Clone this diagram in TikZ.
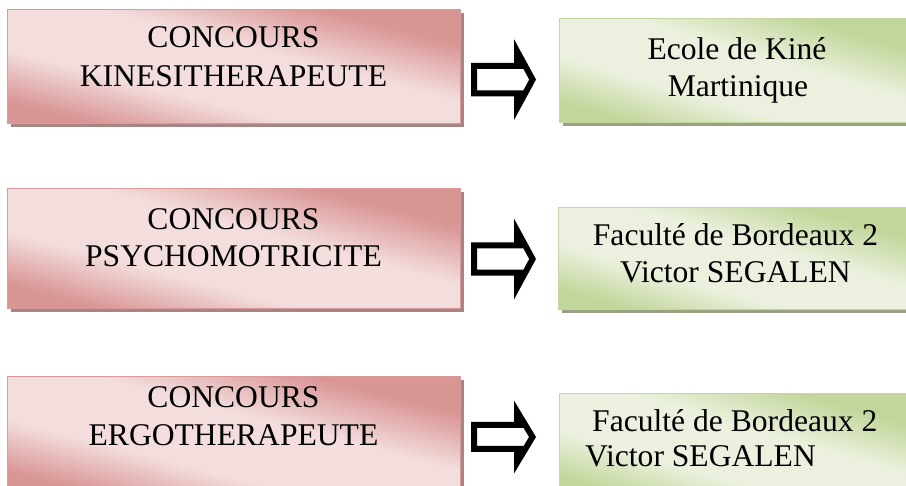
\documentclass[tikz,border=0pt]{standalone}
\usepackage{fontspec}
\setmainfont{Liberation Serif}
\usetikzlibrary{shadows}
\definecolor{reddark}{HTML}{D99594}
\definecolor{redlight}{HTML}{F3DDDD}
\definecolor{redborder}{HTML}{DA9A99}
\definecolor{redshadow}{HTML}{A88484}
\definecolor{greendark}{HTML}{C2D69B}
\definecolor{greenlight}{HTML}{EBF1DE}
\definecolor{greenborder}{HTML}{C4D7A0}
\definecolor{greenshadow}{HTML}{98A283}
\pgfdeclarehorizontalshading{redshade}{100bp}{color(0bp)=(reddark); color(25bp)=(reddark); color(30bp)=(reddark); color(41bp)=(redlight); color(55bp)=(redlight); color(67bp)=(reddark); color(75bp)=(reddark); color(100bp)=(reddark)}
\pgfdeclarehorizontalshading{greenshade}{100bp}{color(0bp)=(greendark); color(25bp)=(greendark); color(30bp)=(greendark); color(41bp)=(greenlight); color(55bp)=(greenlight); color(67bp)=(greendark); color(75bp)=(greendark); color(100bp)=(greendark)}
\tikzset{
  redbox/.style={rectangle, inner sep=0pt,
    drop shadow={shadow xshift=3.5pt, shadow yshift=-3.5pt, fill=redshadow, opacity=1}},
  greenbox/.style={rectangle, inner sep=0pt,
    drop shadow={shadow xshift=3.5pt, shadow yshift=-3.5pt, fill=greenshadow, opacity=1}},
  redline/.style={draw=redborder, line width=1.5pt},
  greenline/.style={draw=greenborder, line width=1.5pt},
  txt/.style={inner sep=0pt, font=\fontsize{31.6}{38}\selectfont, anchor=base},
  txtl/.style={txt, anchor=base west},
  arrowfill/.style={fill=black, even odd rule}
}
% #1 node, #2 shading, #3 angle, #4 half length along gradient, #5 border style
\newcommand\boxshade[5]{%
  \begin{scope}
    \clip (#1.south west) rectangle (#1.north east);
    \shade[shading=#2, transform canvas={shift={(#1.center)}, rotate=#3}]
      (-#4pt,-300pt) rectangle (#4pt,300pt);
  \end{scope}
  \draw[#5] (#1.south west) rectangle (#1.north east);}
\newcommand\blockarr[5]{%
  \fill[arrowfill, shift={(#1)}]
    (0,-#2) -- (43,-#2) -- (43,-#3) -- (65,0) -- (43,#3) -- (43,#2) -- (0,#2) -- cycle
    (6,-#2+6) -- (#4,-#2+6) -- (#5,0) -- (#4,#2-6) -- (6,#2-6) -- cycle;}
\begin{document}
\begin{tikzpicture}[x=1pt,y=-1pt]
\useasboundingbox (0,0) rectangle (906,486);
\clip (0,0) rectangle (906,486);
% left boxes
\node[redbox, minimum width=452.5pt, minimum height=113.5pt] (r1) at (234,66.5) {};
\node[redbox, minimum width=452.5pt, minimum height=119.5pt] (r2) at (234,248.5) {};
\node[redbox, minimum width=452.5pt, minimum height=118pt] (r3) at (234,435.75) {};
\boxshade{r1}{redshade}{75.7}{112.4}{redline}
\boxshade{r2}{redshade}{75.1}{115.6}{redline}
\boxshade{r3}{redshade}{75.4}{114.2}{redline}
% right boxes
\node[greenbox, minimum width=356pt, minimum height=103.5pt] (g1) at (737.75,70.5) {};
\node[greenbox, minimum width=356pt, minimum height=101.5pt] (g2) at (736.75,258.5) {};
\node[greenbox, minimum width=356pt, minimum height=103.5pt] (g3) at (737.75,445.5) {};
\boxshade{g1}{greenshade}{73.8}{99.4}{greenline}
\boxshade{g2}{greenshade}{74.1}{97.6}{greenline}
\boxshade{g3}{greenshade}{73.8}{99.4}{greenline}
% texts
\node[txt] (r1a) at (233.5,48) {CONCOURS};
\node[txt] (r1b) at (233.5,87) {KINESITHERAPEUTE};
\node[txt] (r2a) at (233.5,230) {CONCOURS};
\node[txt] (r2b) at (233.5,267) {PSYCHOMOTRICITE};
\node[txt] (r3a) at (233.5,408) {CONCOURS};
\node[txt] (r3b) at (233.5,446) {ERGOTHERAPEUTE};
\node[txt] (g1a) at (737,60) {Ecole de Kiné};
\node[txt] (g1b) at (738,97) {Martinique};
\node[txt] (g2a) at (735.5,246) {Faculté de Bordeaux 2};
\node[txt] (g2b) at (735.5,283) {Victor SEGALEN};
\node[txtl] (g3a) at (592,432) {Faculté de Bordeaux 2};
\node[txtl] (g3b) at (585,467) {Victor SEGALEN};
% block arrows
\coordinate (a1) at (471,79.6);
\coordinate (a2) at (471,259);
\coordinate (a3) at (471,437);
\blockarr{a1}{16.7}{40.5}{52.4}{58.2}
\blockarr{a2}{16.7}{40.5}{52.4}{58.2}
\blockarr{a3}{15}{36.5}{52.6}{58}
\end{tikzpicture}
\end{document}
